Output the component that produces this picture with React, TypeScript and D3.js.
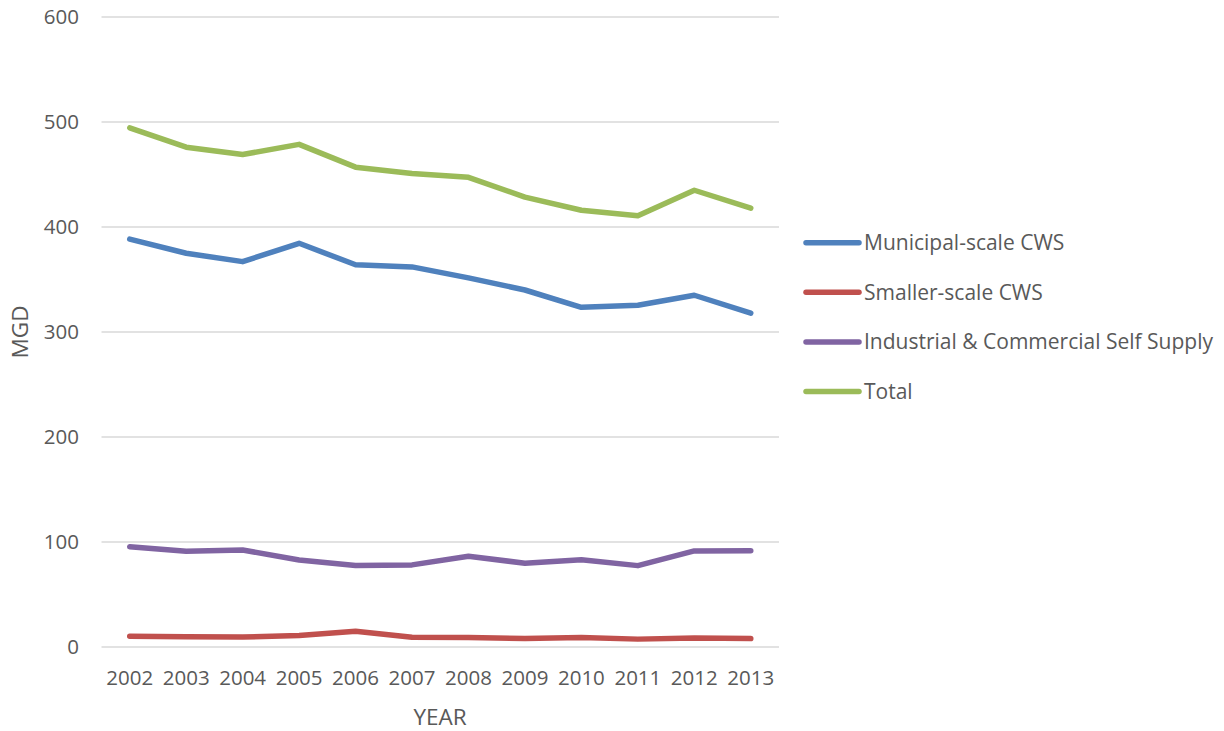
import React from "react";
import * as d3 from "d3";

const years = ["2002","2003","2004","2005","2006","2007","2008","2009","2010","2011","2012","2013"];
const municipal = [388.5, 375, 367, 384.5, 364, 362, 351.5, 340, 323.5, 325.5, 335, 318];
const smaller = [10.2, 9.7, 9.5, 11, 15, 9.3, 9, 8, 9, 7.5, 8.5, 8];
const industrial = [95.5, 91.2, 92.4, 82.9, 77.7, 78.2, 86.4, 79.8, 83, 77.5, 91.5, 91.7];
const total = [494.5, 476, 469, 478.7, 457, 451, 447.3, 428.5, 416, 410.7, 435, 418];
const yTicks = [0, 100, 200, 300, 400, 500, 600];

const seriesNames = ["Municipal-scale CWS", "Smaller-scale CWS", "Industrial & Commercial Self Supply", "Total"];
const seriesValues = [municipal, smaller, industrial, total];
const seriesColors = ["#4F81BD", "#C0504D", "#8064A2", "#9BBB59"];

const W = 1224, H = 731;
const plot = { left: 101.5, right: 779, top: 17, bottom: 647 };
const FONT = "'Open Sans', sans-serif";
const TEXT = "#595959";
const FS = 20.5;

export default function App() {
  const x = d3.scaleBand<string>().domain(years).range([plot.left, plot.right]);
  const y = d3.scaleLinear().domain([0, 600]).range([plot.bottom, plot.top]);
  const cx = (yr: string) => (x(yr) as number) + x.bandwidth() / 2;
  const line = d3.line<number>().x((_, i) => cx(years[i])).y((v) => y(v));

  return (
    <svg width={W} height={H} style={{ position: "absolute", left: 0, top: 0, background: "#fff" }} fontFamily={FONT}>
      <rect width={W} height={H} fill="#fff" />
      {yTicks.map((t) => (
        <g key={t}>
          <line x1={plot.left} x2={plot.right} y1={y(t)} y2={y(t)} stroke="#D9D9D9" strokeWidth={1.5} />
          <text x={79} y={y(t)} dy="0.35em" textAnchor="end" fontSize={FS} fill={TEXT}>{t}</text>
        </g>
      ))}
      {years.map((yr) => (
        <text key={yr} x={cx(yr)} y={678} dy="0.35em" textAnchor="middle" fontSize={FS} fill={TEXT}>{yr}</text>
      ))}
      <text x={440} y={717} dy="0.35em" textAnchor="middle" fontSize={22.5} fill={TEXT}>YEAR</text>
      <text transform={`translate(20,332) rotate(-90)`} dy="0.35em" textAnchor="middle" fontSize={22.5} fill={TEXT}>MGD</text>
      {seriesValues.map((vals, i) => (
        <path key={seriesNames[i]} d={line(vals) || ""} fill="none" stroke={seriesColors[i]} strokeWidth={5.5} strokeLinejoin="round" strokeLinecap="round" />
      ))}
      {seriesNames.map((n, i) => {
        const ly = 242.7 + i * 49.6;
        return (
          <g key={n}>
            <line x1={806} x2={859} y1={ly} y2={ly} stroke={seriesColors[i]} strokeWidth={5.5} strokeLinecap="round" />
            <text x={864} y={ly} dy="0.35em" fontSize={FS + 0.5} fill={TEXT}>{n}</text>
          </g>
        );
      })}
    </svg>
  );
}
